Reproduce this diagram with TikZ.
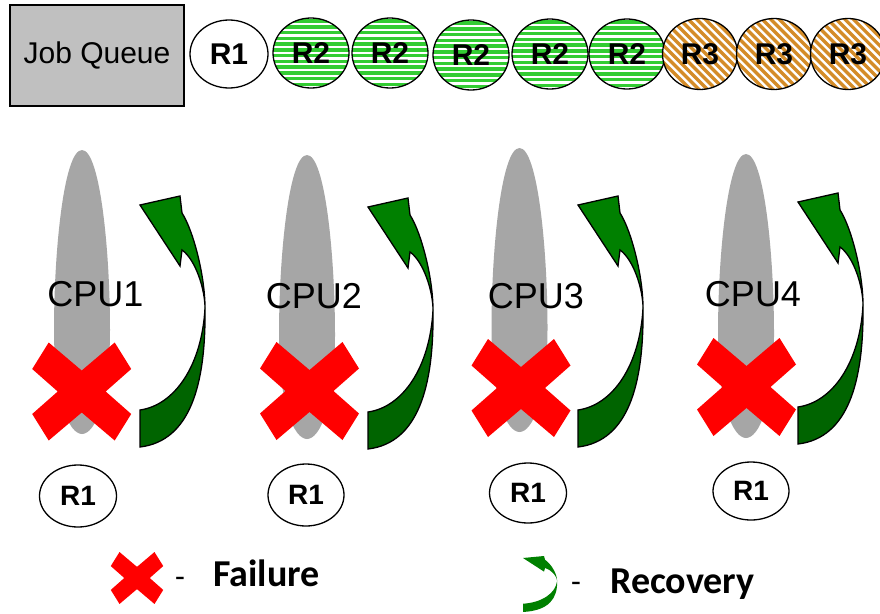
\documentclass[tikz,border=0pt]{standalone}
\usepackage{fontspec}
\setmainfont{Liberation Sans}
\newfontfamily\legfont{Carlito}
\usetikzlibrary{shapes.geometric}
\definecolor{qgray}{RGB}{192,192,192}
\definecolor{cpugray}{RGB}{166,166,166}
\definecolor{stripegreen}{RGB}{51,204,51}
\definecolor{stripeorange}{RGB}{212,140,40}
\definecolor{agreen}{RGB}{0,128,0}
\definecolor{adark}{RGB}{0,100,0}
\definecolor{xred}{RGB}{255,0,0}
\tikzset{
  jqbox/.style={draw, fill=qgray, line width=1.3pt, minimum width=174pt, minimum height=101pt, inner sep=0pt, font=\fontsize{30}{30}\selectfont},
  qell/.style={ellipse, draw, line width=1.3pt, fill=white, minimum width=76pt, minimum height=70pt, inner sep=0pt, font=\bfseries\fontsize{30}{30}\selectfont},
  rell/.style={ellipse, draw, line width=1.3pt, fill=white, minimum width=77pt, minimum height=62pt, inner sep=0pt, font=\bfseries\fontsize{28}{28}\selectfont},
  gstripes/.style={path picture={\foreach \k in {-37,-31.25,...,38}{\draw[stripegreen, line width=3.5pt] ([xshift=-45pt,yshift=\k pt]path picture bounding box.center) -- ([xshift=45pt,yshift=\k pt]path picture bounding box.center);}}},
  ostripes/.style={path picture={\foreach \k in {-96,-87.5,...,96}{\draw[stripeorange, line width=3.2pt] ([xshift=\k pt-45pt,yshift=45pt]path picture bounding box.center) -- ([xshift=\k pt+45pt,yshift=-45pt]path picture bounding box.center);}}},
  cpulabel/.style={anchor=base, inner sep=0pt, font=\fontsize{36}{36}\selectfont},
  legtext/.style={anchor=base west, inner sep=0pt, font=\legfont\bfseries\fontsize{38}{38}\selectfont},
  legdash/.style={inner sep=0pt, font=\legfont\fontsize{32}{32}\selectfont},
  arrowlow/.style={fill=adark, draw=black, line width=1.3pt},
  arrowup/.style={fill=agreen, draw=black, line width=1.3pt},
  xmark/.pic={\fill[xred] (-33,-49) -- (0,-21) -- (33,-49) -- (49.5,-22.5) -- (24,0) -- (49.5,22.5) -- (33,49) -- (0,21) -- (-33,49) -- (-49.5,22.5) -- (-24,0) -- (-49.5,-22.5) -- cycle;},
  cpushape/.pic={\fill[cpugray] (0,0) .. controls (18,0) and (28,100) .. (28,180) .. controls (28,250) and (13,284) .. (0,284) .. controls (-13,284) and (-28,250) .. (-28,180) .. controls (-28,100) and (-18,0) .. (0,0) -- cycle;},
  recarrow/.pic={
    \path[arrowlow] (65,103) .. controls (66,180) and (50,236) .. (0,242) -- (0,205) .. controls (35,200) and (62,160) .. (65,103) -- cycle;
    \path[arrowup] (0,0) -- (40,-9) -- (42,8) .. controls (53,25) and (65,70) .. (65,103) .. controls (65,85) and (56,55) .. (42,45) -- (40,61) -- cycle;
  }
}
\begin{document}
\begin{tikzpicture}[x=1pt,y=-1pt]
\useasboundingbox (0,0) rectangle (880,613);
\fill[white] (0,0) rectangle (880,613);

% job queue
\node[jqbox] (jq) at (97,55.5) {Job Queue};
\node[qell, minimum width=78pt, minimum height=68pt] (q1) at (229,54) {R1};
\node[qell, gstripes] (q2) at (311,53) {R2};
\node[qell, gstripes] (q3) at (390,53) {R2};
\node[qell, gstripes] (q4) at (471,55) {R2};
\node[qell, gstripes] (q5) at (550,54) {R2};
\node[qell, gstripes] (q6) at (627,54) {R2};
\node[qell, ostripes, minimum width=75pt, minimum height=71pt] (q7) at (700,54) {R3};
\node[qell, ostripes, minimum width=75pt, minimum height=71pt] (q8) at (774,54) {R3};
\node[qell, ostripes, minimum width=75pt, minimum height=71pt] (q9) at (848,54) {R3};

% CPUs
\pic (cpuA) at (82,150) {cpushape};
\pic (cpuB) at (307,155) {cpushape};
\pic (cpuC) at (519.5,148) {cpushape};
\pic (cpuD) at (746,154) {cpushape};

\node[cpulabel] (c1) at (95.5,306) {CPU1};
\node[cpulabel] (c2) at (314,308) {CPU2};
\node[cpulabel] (c3) at (536,308) {CPU3};
\node[cpulabel] (c4) at (753,306) {CPU4};

\coordinate (x1) at (81.7,391.5);
\coordinate (x2) at (309.5,391);
\coordinate (x3) at (521,388);
\coordinate (x4) at (746.5,387);
\pic at (x1) {xmark};
\pic at (x2) {xmark};
\pic at (x3) {xmark};
\pic at (x4) {xmark};

\coordinate (a1) at (140,205);
\coordinate (a2) at (368,207);
\coordinate (a3) at (578,205);
\coordinate (a4) at (798,202);
\pic at (a1) {recarrow};
\pic at (a2) {recarrow};
\pic at (a3) {recarrow};
\pic at (a4) {recarrow};

% R1 below CPUs
\node[rell] (r1) at (78,496) {R1};
\node[rell, minimum width=76pt] (r2) at (306,495) {R1};
\node[rell, minimum height=60pt] (r3) at (528,493) {R1};
\node[rell, minimum width=76pt, minimum height=58pt] (r4) at (751,491) {R1};

% legend
\coordinate (lx) at (137,578);
\pic[scale=0.53] at (lx) {xmark};
\node[legdash] (d1) at (180,582) {-};
\node[legtext] (lf) at (213,586) {Failure};

\coordinate (la) at (523,558);
\begin{scope}[arrowlow/.style={fill=agreen}, arrowup/.style={fill=agreen}]
\pic[xscale=0.525, yscale=0.223] at (la) {recarrow};
\end{scope}
\node[legdash] (d2) at (576,587) {-};
\node[legtext] (lr) at (610,593) {Recovery};
\end{tikzpicture}
\end{document}
